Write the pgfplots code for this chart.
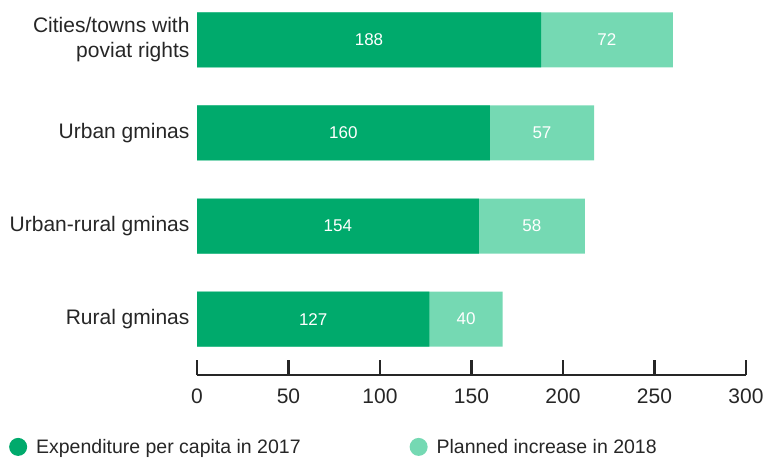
\documentclass[border=0pt]{standalone}
\usepackage{fontspec}
\setmainfont{Liberation Sans}
\usepackage{pgfplots}
\usepackage{pgfplotstable}
\pgfplotsset{compat=1.18}
\definecolor{dg}{HTML}{00AA6C}
\definecolor{lg}{HTML}{75D9B3}
\definecolor{tx}{HTML}{262626}
\pgfplotstableread{
y exp inc
0 127 40
1 154 58
2 160 57
3 188 72
}\data
\begin{document}
\begin{tikzpicture}
\path[use as bounding box] (0,0) rectangle (766pt,458pt);
\begin{axis}[
 at={(197pt,83pt)}, anchor=south west,
 scale only axis, width=549pt, height=365pt,
 xmin=0, xmax=300, ymin=-0.6, ymax=3.32,
 xtick={0,50,...,300},
 ytick={0,1,2,3},
 yticklabels={Rural gminas, Urban-rural gminas, Urban gminas, {Cities/towns with\\poviat rights}},
 yticklabel style={align=right, font=\fontsize{21}{25}\selectfont, text=tx, xshift=-4pt},
 xticklabel style={font=\fontsize{21}{25}\selectfont, text=tx, yshift=-10pt},
 /pgf/number format/assume math mode=true,
 axis x line*=bottom, axis y line*=left,
 y axis line style={draw=none},
 ytick style={draw=none},
 x axis line style={line width=2.5pt, draw=tx, -},
 xtick style={line width=2.5pt, draw=tx},
 tick align=inside,
 major tick length=15pt,
 legend image code/.code={\fill[#1] (0pt,0pt) circle (9pt); \path (16pt,0pt);},
 legend style={at={(axis description cs:-0.348,-0.197)}, anchor=west, draw=none, fill=none,
   legend columns=2, font=\fontsize{19.5}{23}\selectfont, text=tx,
   /tikz/every even column/.style={column sep=107pt}},
]
\addplot[xbar, bar width=55pt, bar shift=0pt, draw=none, fill=lg, forget plot]
  table[x expr=\thisrow{exp}+\thisrow{inc}, y=y]{\data};
\addplot[xbar, bar width=55pt, bar shift=0pt, draw=none, fill=dg]
  table[x=exp, y=y]{\data};
\addlegendentry{Expenditure per capita in 2017}
\addlegendimage{draw=none, fill=lg}
\addlegendentry{Planned increase in 2018}
\addplot[only marks, mark=none, nodes near coords, point meta=explicit symbolic,
  every node near coord/.append style={anchor=center, text=white, font=\fontsize{17}{20}\selectfont}, forget plot]
  table[x expr=\thisrow{exp}/2, y=y, meta=exp]{\data};
\addplot[only marks, mark=none, nodes near coords, point meta=explicit symbolic,
  every node near coord/.append style={anchor=center, text=white, font=\fontsize{17}{20}\selectfont}, forget plot]
  table[x expr=\thisrow{exp}+\thisrow{inc}/2, y=y, meta=inc]{\data};
\end{axis}
\end{tikzpicture}
\end{document}
